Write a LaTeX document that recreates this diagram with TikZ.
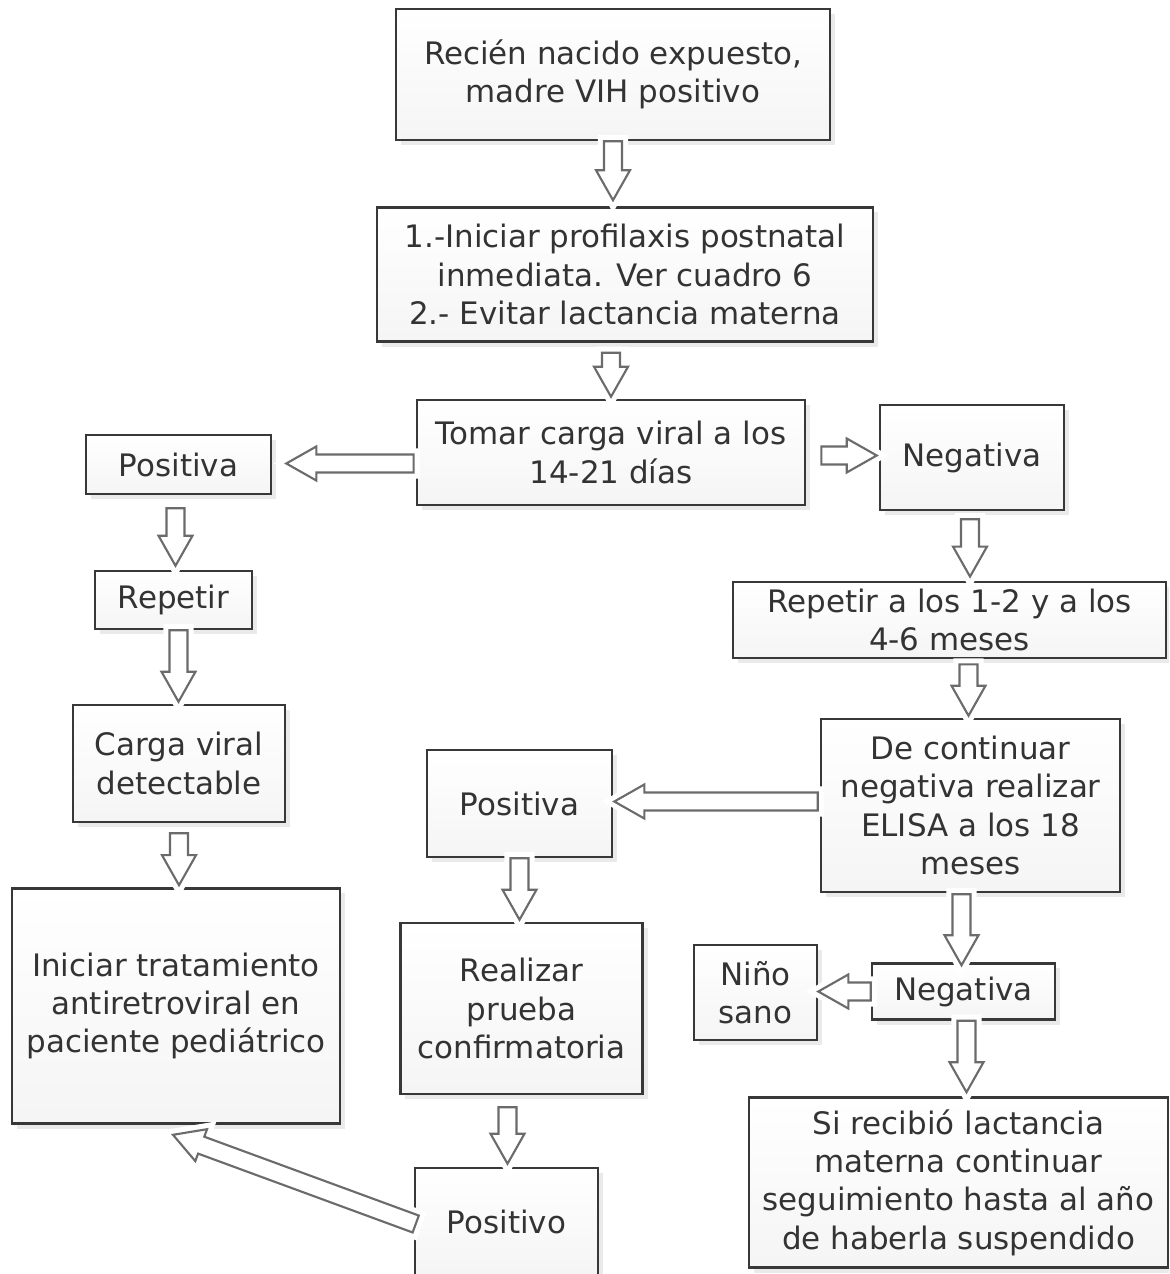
\documentclass[tikz,border=0pt]{standalone}
\usepackage{fontspec}
\setmainfont{DejaVu Sans}
\usetikzlibrary{calc,shadows}

\tikzset{
  box/.style={draw=black!78, line width=0.7pt, top color=white, bottom color=black!4,
    align=center, text=black!80, inner sep=2pt,
    drop shadow={shadow xshift=0.05cm, shadow yshift=-0.05cm, opacity=0.16}},
  barrow/.style={draw=black!58, fill=white, line width=0.6pt,
    preaction={draw=white, line width=3.5pt}}
}
% hollow block arrow from #1 to #2
\newcommand{\barrow}[2]{%
  \path #1 coordinate (bas) #2 coordinate (bat);
  \path ($(bat)!0.30cm!(bas)$) coordinate (bah);
  \draw[barrow] ($(bas)!0.09cm!90:(bat)$) -- ($(bah)!0.09cm!90:(bat)$)
    -- ($(bah)!0.17cm!90:(bat)$) -- (bat) -- ($(bah)!0.17cm!-90:(bat)$)
    -- ($(bah)!0.09cm!-90:(bat)$) -- ($(bas)!0.09cm!-90:(bat)$) -- cycle;}

\begin{document}
\begin{tikzpicture}[x=0.01cm, y=-0.01cm, every node/.style={font=\fontsize{8.8}{10.9}\selectfont}]
  \path[use as bounding box, clip] (0,0) rectangle (1169,1274);
  \fill[white] (0,0) rectangle (1169,1274);

  \node[box, minimum width=4.34cm, minimum height=1.31cm] (top) at (613,74.5)
    {Recién nacido expuesto,\\madre VIH positivo};
  \node[box, minimum width=4.96cm, minimum height=1.34cm] (prof) at (625,274.5)
    {1.-Iniciar profilaxis postnatal\\inmediata. Ver cuadro 6\\2.- Evitar lactancia materna};
  \node[box, minimum width=3.88cm, minimum height=1.05cm] (carga) at (611,452.5)
    {Tomar carga viral a los\\14-21 días};
  \node[box, minimum width=1.85cm, minimum height=0.59cm] (posA) at (178.5,464.5) {Positiva};
  \node[box, minimum width=1.84cm, minimum height=1.05cm] (negA) at (972,457.5) {Negativa};
  \node[box, minimum width=1.57cm, minimum height=0.58cm] (rep) at (173.5,600) {Repetir};
  \node[box, minimum width=4.33cm, minimum height=0.70cm] (rep2) at (949.5,620)
    {Repetir a los 1-2 y a los\\4-6 meses};
  \node[box, minimum width=2.12cm, minimum height=1.17cm] (cvd) at (179,763.5)
    {Carga viral\\detectable};
  \node[box, minimum width=2.99cm, minimum height=1.73cm] (elisa) at (970.5,805.5)
    {De continuar\\negativa realizar\\ELISA a los 18\\meses};
  \node[box, minimum width=1.85cm, minimum height=1.07cm] (posB) at (519.5,803.5) {Positiva};
  \node[box, minimum width=3.28cm, minimum height=2.35cm] (trat) at (176,1006)
    {Iniciar tratamiento\\antiretroviral en\\paciente pediátrico};
  \node[box, minimum width=2.42cm, minimum height=1.71cm] (conf) at (521.5,1008.5)
    {Realizar\\prueba\\confirmatoria};
  \node[box, minimum width=1.23cm, minimum height=0.95cm] (sano) at (755.5,992.5) {Niño\\sano};
  \node[box, minimum width=1.83cm, minimum height=0.56cm] (negB) at (963.5,991.5) {Negativa};
  \node[box, minimum width=4.19cm, minimum height=1.70cm] (lact) at (958.5,1182.5)
    {Si recibió lactancia\\materna continuar\\seguimiento hasta al año\\de haberla suspendido};
  \node[box, minimum width=1.83cm, minimum height=1.08cm] (posit) at (506.5,1222) {Positivo};

  \barrow{(top.south)}{($(top.south |- prof.north)+(0,-6)$)}
  \barrow{($(carga.north |- prof.south)+(0,10)$)}{($(carga.north)+(0,-2)$)}
  \barrow{($(carga.west |- posA.east)+(-2,-1)$)}{($(posA.east)+(14,-1)$)}
  \barrow{($(carga.east |- negA.west)+(15,-2)$)}{($(negA.west)+(-2,-2)$)}
  \barrow{($(posA.south)+(-3,13)$)}{($(posA.south |- rep.north)+(-3,-4)$)}
  \barrow{($(rep.south)+(5,0)$)}{($(rep.south |- cvd.north)+(5,-2)$)}
  \barrow{($(cvd.south)+(0,10)$)}{($(cvd.south |- trat.north)+(0,-2)$)}
  \barrow{($(negA.south)+(-2,8)$)}{($(negA.south |- rep2.north)+(-2,-4)$)}
  \barrow{($(rep2.south)+(19,5)$)}{($(rep2.south |- elisa.north)+(19,-2)$)}
  \barrow{($(elisa.west)+(-2,-4)$)}{($(posB.east |- elisa.west)+(1,-4)$)}
  \barrow{(posB.south)}{($(posB.south |- conf.north)+(0,-2)$)}
  \barrow{($(elisa.south)+(-9,1)$)}{($(elisa.south |- negB.north)+(-9,3)$)}
  \barrow{(negB.west)}{(sano.east |- negB.west)}
  \barrow{($(negB.south)+(3,0)$)}{($(negB.south |- lact.north)+(3,-4)$)}
  \barrow{($(conf.south)+(-14,12)$)}{($(conf.south |- posit.north)+(-14,-3)$)}
  \barrow{($(posit.west)+(2,2)$)}{($(trat.south)+(-3,10)$)}
\end{tikzpicture}
\end{document}
